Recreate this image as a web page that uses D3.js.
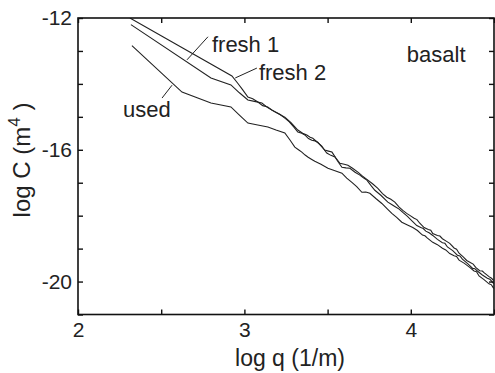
<!DOCTYPE html>
<html>
<head>
<meta charset="utf-8">
<style>
  body { margin: 0; background: #fff; }
  text { font-family: "Liberation Sans", Arial, sans-serif; fill: #222; }
</style>
</head>
<body>
<script src="https://cdn.jsdelivr.net/npm/d3@7"></script>
<script>
// log q (1/m) and log C (m^4)
var fresh1Q = [2.312, 2.925, 2.960, 2.990, 3.021, 3.05, 3.081, 3.11, 3.14, 3.165, 3.19, 3.215, 3.243, 3.27, 3.295, 3.321, 3.345, 3.363, 3.385, 3.405, 3.425, 3.441, 3.46, 3.483, 3.505, 3.526, 3.55, 3.574, 3.60, 3.622, 3.65, 3.682, 3.71, 3.742, 3.77, 3.802, 3.83, 3.856, 3.88, 3.904, 3.93, 3.952, 3.975, 3.994, 4.02, 4.037, 4.054, 4.08, 4.105, 4.12, 4.132, 4.16, 4.175, 4.19, 4.215, 4.234, 4.26, 4.275, 4.29, 4.315, 4.336, 4.36, 4.375, 4.39, 4.414, 4.43, 4.44, 4.47, 4.485, 4.498];
var fresh1C = [-12.00, -13.76, -13.98, -14.18, -14.40, -14.45, -14.55, -14.66, -14.70, -14.79, -14.86, -14.93, -15.04, -15.15, -15.30, -15.46, -15.50, -15.55, -15.66, -15.71, -15.73, -15.77, -15.88, -16.01, -16.04, -16.07, -16.25, -16.41, -16.44, -16.47, -16.56, -16.68, -16.80, -16.92, -17.03, -17.17, -17.33, -17.44, -17.50, -17.59, -17.74, -17.84, -17.93, -17.99, -18.08, -18.12, -18.23, -18.36, -18.42, -18.44, -18.54, -18.60, -18.62, -18.70, -18.78, -18.84, -18.98, -19.02, -19.14, -19.25, -19.36, -19.43, -19.47, -19.57, -19.67, -19.68, -19.73, -19.85, -19.90, -19.97];

var fresh2Q = [2.318, 2.799, 2.919, 2.97, 3.021, 3.06, 3.105, 3.14, 3.183, 3.21, 3.243, 3.28, 3.321, 3.35, 3.375, 3.395, 3.411, 3.44, 3.465, 3.48, 3.495, 3.52, 3.544, 3.565, 3.586, 3.61, 3.634, 3.665, 3.694, 3.715, 3.736, 3.76, 3.784, 3.82, 3.862, 3.885, 3.904, 3.93, 3.952, 3.98, 4.01, 4.036, 4.06, 4.075, 4.09, 4.11, 4.132, 4.16, 4.19, 4.205, 4.22, 4.252, 4.28, 4.295, 4.31, 4.34, 4.372, 4.385, 4.40, 4.43, 4.46, 4.475, 4.498];
var fresh2C = [-12.20, -13.82, -14.03, -14.27, -14.49, -14.53, -14.58, -14.72, -14.85, -14.92, -15.01, -15.18, -15.40, -15.50, -15.55, -15.62, -15.65, -15.78, -15.89, -16.00, -16.10, -16.17, -16.22, -16.38, -16.53, -16.55, -16.56, -16.68, -16.77, -16.85, -16.92, -17.08, -17.23, -17.38, -17.59, -17.66, -17.72, -17.80, -17.90, -18.02, -18.17, -18.30, -18.36, -18.39, -18.47, -18.52, -18.60, -18.72, -18.82, -18.84, -18.95, -19.06, -19.20, -19.22, -19.32, -19.45, -19.60, -19.61, -19.68, -19.80, -19.90, -19.93, -20.06];

var usedQ = [2.324, 2.625, 2.799, 2.919, 2.97, 3.021, 3.08, 3.141, 3.19, 3.243, 3.275, 3.303, 3.325, 3.345, 3.365, 3.381, 3.40, 3.423, 3.46, 3.502, 3.54, 3.586, 3.615, 3.646, 3.675, 3.706, 3.73, 3.754, 3.79, 3.826, 3.86, 3.886, 3.915, 3.946, 3.98, 4.012, 4.04, 4.07, 4.085, 4.10, 4.132, 4.16, 4.19, 4.21, 4.234, 4.26, 4.275, 4.29, 4.32, 4.354, 4.38, 4.395, 4.41, 4.44, 4.47, 4.485, 4.498];
var usedC = [-12.84, -14.25, -14.58, -14.70, -14.95, -15.19, -15.25, -15.31, -15.40, -15.49, -15.71, -15.92, -16.00, -16.07, -16.16, -16.22, -16.28, -16.35, -16.44, -16.56, -16.63, -16.71, -16.86, -16.99, -17.12, -17.29, -17.28, -17.32, -17.48, -17.63, -17.80, -17.93, -18.05, -18.20, -18.28, -18.36, -18.45, -18.59, -18.61, -18.68, -18.81, -18.88, -18.99, -19.04, -19.15, -19.22, -19.24, -19.35, -19.44, -19.57, -19.68, -19.70, -19.83, -19.94, -20.07, -20.10, -20.21];

var xTicks = [2, 2.5, 3, 3.5, 4, 4.5];
var xTickLabels = ["2", "", "3", "", "4", ""];
var yTicks = [-12, -13, -14, -15, -16, -17, -18, -19, -20, -21];
var yTickLabels = ["-12", "", "", "", "-16", "", "", "", "-20", ""];

// annotation labels with their leader lines, in data units
var labels = [
  { text: "fresh 1", q: 2.805, c: -13.03, from: [2.655, -13.27], to: [2.781, -12.57] },
  { text: "fresh 2", q: 3.087, c: -13.88, from: [2.945, -13.82], to: [3.075, -13.52] },
  { text: "used", q: 2.27, c: -15.0, from: [2.505, -14.43], to: [2.565, -14.04] },
  { text: "basalt", q: 3.976, c: -13.33 }
];

var W = 495, H = 373;
var margin = { top: 18, right: 1, bottom: 58.5, left: 78 };
var w = W - margin.left - margin.right,
    h = H - margin.top - margin.bottom;

var svg = d3.select("body").append("svg")
    .attr("width", W).attr("height", H);
var g = svg.append("g").attr("transform", "translate(" + margin.left + "," + margin.top + ")");

var x = d3.scaleLinear().domain([2, 4.5]).range([0, w]);
var y = d3.scaleLinear().domain([-12, -21]).range([0, h]);

var series = [
  d3.zip(fresh1Q, fresh1C),
  d3.zip(fresh2Q, fresh2C),
  d3.zip(usedQ, usedC)
];

var line = d3.line().x(function (d) { return x(d[0]); }).y(function (d) { return y(d[1]); });

g.append("defs").append("clipPath").attr("id", "clip")
  .append("rect").attr("width", w).attr("height", h);

g.selectAll("path.curve").data(series).enter()
  .append("path").attr("class", "curve")
  .attr("clip-path", "url(#clip)")
  .attr("d", line)
  .attr("fill", "none").attr("stroke", "#222").attr("stroke-width", 1.1);

// axes, ticks pointing inward on all four sides
function styleAxis(sel) {
  sel.select(".domain").remove();
  sel.selectAll("line").attr("stroke", "#111").attr("stroke-width", 1.4);
  sel.selectAll("text").attr("font-size", 21).attr("fill", "#222")
    .attr("font-family", "Liberation Sans, Arial, sans-serif");
}

g.append("g").attr("transform", "translate(0," + h + ")")
  .call(d3.axisBottom(x).tickValues(xTicks).tickSizeInner(-5).tickSizeOuter(0).tickPadding(8)
    .tickFormat(function (d, i) { return xTickLabels[i]; }))
  .call(styleAxis);
g.append("g")
  .call(d3.axisTop(x).tickValues(xTicks).tickSizeInner(-5).tickSizeOuter(0).tickFormat(""))
  .call(styleAxis);
g.append("g")
  .call(d3.axisLeft(y).tickValues(yTicks).tickSizeInner(-5).tickSizeOuter(0).tickPadding(6)
    .tickFormat(function (d, i) { return yTickLabels[i]; }))
  .call(styleAxis);
g.append("g").attr("transform", "translate(" + w + ",0)")
  .call(d3.axisRight(y).tickValues(yTicks).tickSizeInner(-5).tickSizeOuter(0).tickFormat(""))
  .call(styleAxis);

g.append("rect").attr("width", w).attr("height", h)
  .attr("fill", "none").attr("stroke", "#111").attr("stroke-width", 1.6);

// labels and leaders
var ann = g.selectAll("g.ann").data(labels).enter().append("g").attr("class", "ann");
ann.filter(function (d) { return d.from; }).append("line")
  .attr("x1", function (d) { return x(d.from[0]); })
  .attr("y1", function (d) { return y(d.from[1]); })
  .attr("x2", function (d) { return x(d.to[0]); })
  .attr("y2", function (d) { return y(d.to[1]); })
  .attr("stroke", "#222").attr("stroke-width", 1);
ann.append("text")
  .attr("x", function (d) { return x(d.q); })
  .attr("y", function (d) { return y(d.c); })
  .attr("font-size", 22)
  .text(function (d) { return d.text; });

// axis titles
svg.append("text")
  .attr("x", margin.left + w / 2 + 4).attr("y", 366)
  .attr("text-anchor", "middle").attr("font-size", 23)
  .text("log q (1/m)");

var yl = svg.append("text")
  .attr("transform", "translate(30,160) rotate(-90)")
  .attr("text-anchor", "middle").attr("font-size", 24);
yl.append("tspan").text("log C (m");
yl.append("tspan").attr("font-size", 17).attr("dy", -10).text("4");
yl.append("tspan").attr("dy", 10).text(" )");
</script>
</body>
</html>
